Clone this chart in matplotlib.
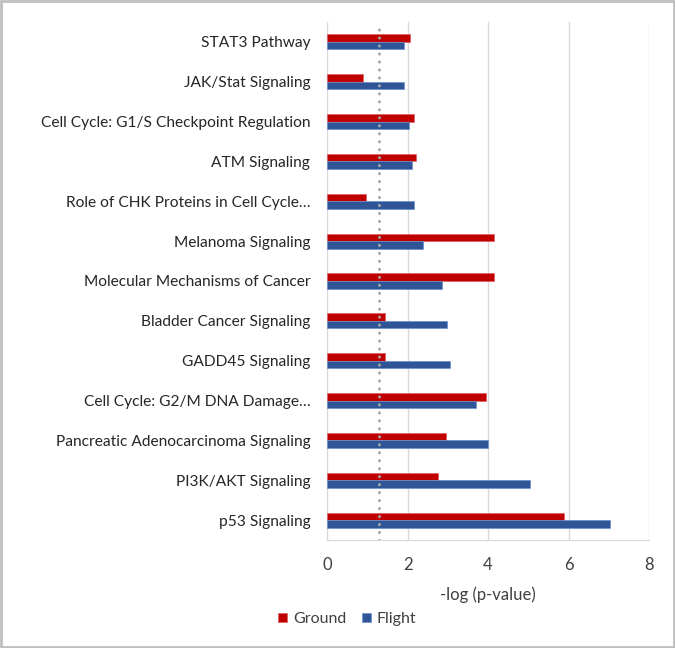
import matplotlib
matplotlib.use("Agg")
import matplotlib.pyplot as plt
import numpy as np
from matplotlib.patches import Rectangle

categories = [
    "p53 Signaling",
    "PI3K/AKT Signaling",
    "Pancreatic Adenocarcinoma Signaling",
    "Cell Cycle: G2/M DNA Damage\u2026",
    "GADD45 Signaling",
    "Bladder Cancer Signaling",
    "Molecular Mechanisms of Cancer",
    "Melanoma Signaling",
    "Role of CHK Proteins in Cell Cycle\u2026",
    "ATM Signaling",
    "Cell Cycle: G1/S Checkpoint Regulation",
    "JAK/Stat Signaling",
    "STAT3 Pathway",
]
ground = [5.90, 2.76, 2.95, 3.94, 1.44, 1.44, 4.16, 4.16, 0.98, 2.22, 2.15, 0.89, 2.06]
flight = [7.04, 5.05, 4.00, 3.70, 3.06, 2.99, 2.85, 2.38, 2.15, 2.10, 2.04, 1.92, 1.92]
threshold = 1.30
xticks = [0, 2, 4, 6, 8]
xlabel = "-log (p-value)"
series_names = ["Ground", "Flight"]

plt.rcParams["font.family"] = ["Lato", "DejaVu Sans"]

fig = plt.figure(figsize=(6.75, 6.48), dpi=100)
ax = fig.add_axes([327/675, 108/648, 322/675, 518/648])

red = "#C00000"
blue = "#2F5597"
y = np.arange(len(categories))
h = 0.19
ax.barh(y + h/2, ground, height=h, color=red, edgecolor="#E06060", linewidth=0.5, label=series_names[0], zorder=3)
ax.barh(y - h/2, flight, height=h, color=blue, edgecolor="#6C8FD0", linewidth=0.5, label=series_names[1], zorder=3)

ax.axvline(threshold, color="#A6A6A6", linestyle=(0, (0.01, 2.6)), linewidth=2.2,
           dash_capstyle="round", zorder=4)

ax.set_xlim(0, 8)
ax.set_ylim(-0.5, len(categories) - 0.5)
ax.set_xticks(xticks)
ax.set_xticklabels([str(t) for t in xticks], fontsize=12, color="#404040")
ax.set_yticks(y)
ax.set_yticklabels(categories, fontsize=11.2, color="#262626")
ax.tick_params(axis="both", length=0)
ax.tick_params(axis="y", pad=12)
ax.tick_params(axis="x", pad=12)
ax.xaxis.grid(True, color="#D9D9D9", linewidth=1.0, zorder=0)
ax.set_axisbelow(True)
for s in ["top", "right"]:
    ax.spines[s].set_visible(False)
ax.spines["left"].set_color("#D9D9D9")
ax.spines["bottom"].set_color("#D9D9D9")
ax.set_xlabel(xlabel, fontsize=12, color="#404040", labelpad=10)

leg = fig.legend(loc="center left", bbox_to_anchor=(264/675, 1 - 619/648), ncol=2,
                 frameon=False, fontsize=11.5, handlelength=0.55, handleheight=0.55,
                 handletextpad=0.35, columnspacing=1.0, labelcolor="#404040")

# outer panel border
fig.patches.append(Rectangle((0.0015, 0.0015), 0.997, 0.997, transform=fig.transFigure,
                             fill=False, edgecolor="#BFBFBF", linewidth=2))

fig.savefig("out.png", dpi=100)
